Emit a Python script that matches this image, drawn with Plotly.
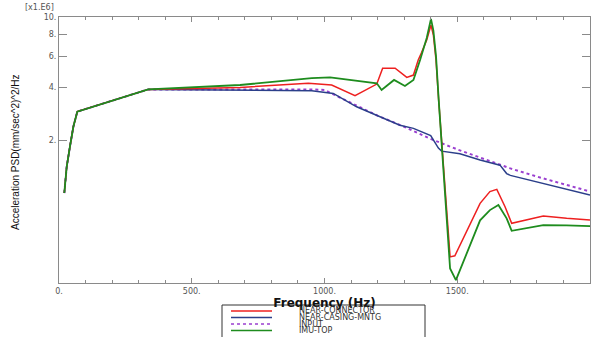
import plotly.graph_objects as go

# Frequencies (Hz) and PSD values (x1.E6 (mm/sec^2)^2/Hz)
near_connector_f = [20, 29, 41, 54, 69, 336, 682, 939, 1027, 1115, 1197, 1219, 1266, 1310, 1335, 1353, 1366, 1385, 1401, 1410, 1420, 1430, 1473, 1491, 1586, 1623, 1649, 1680, 1705, 1824, 1912, 2000]
near_connector_v = [1.0, 1.41, 1.83, 2.38, 2.9, 3.88, 3.98, 4.2, 4.11, 3.57, 4.16, 5.12, 5.12, 4.54, 4.68, 5.7, 6.3, 7.4, 9.0, 7.9, 5.7, 3.37, 0.434, 0.44, 0.874, 1.02, 1.05, 0.836, 0.673, 0.74, 0.718, 0.703]

near_casing_f = [20, 29, 41, 54, 69, 336, 952, 1033, 1121, 1234, 1284, 1335, 1385, 1400, 1429, 1441, 1510, 1586, 1661, 1686, 1700, 2000]
near_casing_v = [1.0, 1.41, 1.83, 2.38, 2.9, 3.88, 3.81, 3.68, 3.09, 2.6, 2.43, 2.33, 2.18, 2.12, 1.80, 1.73, 1.67, 1.54, 1.44, 1.29, 1.26, 0.975]

input_f = [20, 29, 41, 54, 69, 336, 952, 1000, 1100, 1200, 1300, 1400, 1500, 1600, 1700, 1800, 1900, 2000]
input_v = [1.0, 1.41, 1.83, 2.38, 2.9, 3.88, 3.88, 3.85, 3.25, 2.75, 2.38, 2.03, 1.77, 1.57, 1.38, 1.24, 1.12, 1.02]

imu_top_f = [20, 29, 41, 54, 69, 336, 682, 952, 1021, 1197, 1215, 1262, 1303, 1335, 1360, 1385, 1401, 1410, 1420, 1430, 1473, 1495, 1586, 1623, 1655, 1686, 1705, 1824, 1912, 2000]
imu_top_v = [1.0, 1.41, 1.83, 2.38, 2.9, 3.88, 4.11, 4.49, 4.54, 4.2, 3.85, 4.39, 4.06, 4.39, 5.7, 7.6, 9.75, 8.4, 6.0, 3.4, 0.373, 0.32, 0.70, 0.80, 0.855, 0.718, 0.61, 0.658, 0.655, 0.649]

series_names = ["NEAR-CONNECTOR", "NEAR-CASING-MNTG", "INPUT", "IMU-TOP"]
series_colors = ["#ee2020", "#2b3f8a", "#9a3fd0", "#1e8c1e"]
series_dash = ["solid", "solid", "dot", "solid"]
series_width = [1.5, 1.5, 2, 1.8]

x_tickvals = [0, 500, 1000, 1500, 2000]
x_ticktext = ["0.", "500.", "1000.", "1500.", "2000."]
y_tickvals = [2, 4, 6, 8, 10]
y_ticktext = ["2.", "4.", "6.", "8.", "10."]

data = [(near_connector_f, near_connector_v), (near_casing_f, near_casing_v),
        (input_f, input_v), (imu_top_f, imu_top_v)]

fig = go.Figure()
order = [2, 1, 0, 3]
for i in order:
    f, v = data[i]
    fig.add_trace(go.Scatter(x=f, y=v, mode="lines", name=series_names[i],
                             line=dict(color=series_colors[i], width=series_width[i], dash=series_dash[i]),
                             showlegend=False))

axis_color = "#8a8a8a"
tick_font = dict(family="DejaVu Sans", size=8, color="#555555")
fig.update_layout(
    width=594, height=337,
    margin=dict(l=59, r=4, t=17, b=54),
    paper_bgcolor="white", plot_bgcolor="white",
    xaxis=dict(range=[0, 2000], tickvals=x_tickvals, ticktext=x_ticktext,
               ticks="inside", ticklen=5, tickcolor=axis_color, showgrid=False, zeroline=False,
               showline=True, linecolor=axis_color, linewidth=1, mirror="allticks",
               tickfont=tick_font, automargin=False,
               title=dict(text="<b>Frequency (Hz)</b>", standoff=0,
                          font=dict(family="DejaVu Sans", size=12, color="#111111")),
               minor=dict(dtick=100, ticks="inside", ticklen=3, tickcolor=axis_color, showgrid=False)),
    yaxis=dict(type="log", range=[-0.511, 1.0], tickvals=y_tickvals, ticktext=y_ticktext,
               ticks="inside", ticklen=8, tickcolor=axis_color, showgrid=False, zeroline=False,
               showline=True, linecolor=axis_color, linewidth=1, mirror="allticks",
               tickfont=tick_font),
    showlegend=False,
)

fig.add_annotation(text="[x1.E6]", xref="paper", yref="paper", x=-0.005, y=1.0, yshift=3,
                   xanchor="right", yanchor="bottom", showarrow=False,
                   font=dict(family="DejaVu Sans", size=8, color="#555555"))
fig.add_annotation(text="Acceleration PSD(mm/sec^2)^2/Hz", xref="paper", yref="paper",
                   x=0, xshift=-44, y=0.5, yshift=-2, textangle=-90, showarrow=False,
                   xanchor="center", yanchor="middle",
                   font=dict(family="Liberation Sans", size=10, color="#111111"))

# Legend (manual, compact) -- paper coords relative to plot area
PL, PR, PT, PB = 59, 590, 17, 283
def px(x):
    return (x - PL) / (PR - PL)
def py(y):
    return (PB - y) / (PB - PT)
leg_left, leg_right, leg_top = 222, 425, 305
fig.add_shape(type="rect", xref="paper", yref="paper", x0=px(leg_left), x1=px(leg_right),
              y0=py(leg_top), y1=py(345), line=dict(color="#333333", width=1), fillcolor="rgba(0,0,0,0)",
              layer="below")
row_y = [311, 317.5, 324, 330.5]
for i in range(4):
    fig.add_shape(type="line", xref="paper", yref="paper", x0=px(231), x1=px(272),
                  y0=py(row_y[i]), y1=py(row_y[i]),
                  line=dict(color=series_colors[i], width=1.5, dash=series_dash[i]), layer="above")
    fig.add_annotation(text=series_names[i], xref="paper", yref="paper", x=px(297), y=py(row_y[i]),
                       xanchor="left", yanchor="middle", showarrow=False,
                       font=dict(family="DejaVu Sans", size=8, color="#333333"))

fig.write_html("out.html")
